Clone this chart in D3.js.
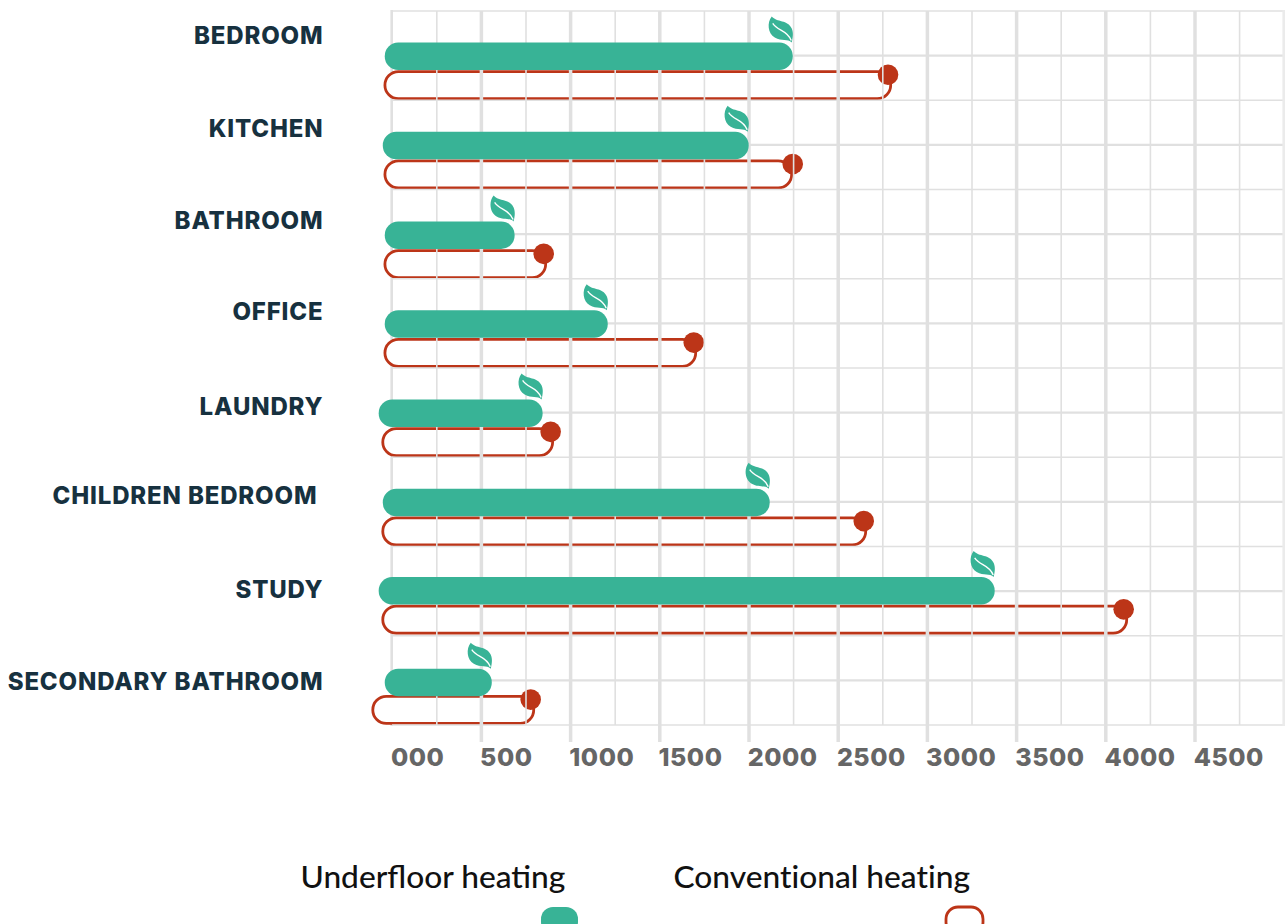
<!DOCTYPE html>
<html><head><meta charset="utf-8">
<script src="https://cdn.jsdelivr.net/npm/d3@7/dist/d3.min.js"></script>
<style>
html,body{margin:0;padding:0;background:#fff;overflow:hidden}
svg{display:block}
.cat{font-family:Inter,sans-serif;font-weight:800;font-size:24px;letter-spacing:.85px;fill:#17313f;white-space:pre}
.tick-label{font-family:Inter,sans-serif;font-weight:800;font-size:25px;letter-spacing:.5px;fill:#666}
.legend{font-family:Lato,sans-serif;font-weight:500;font-size:31.7px;fill:#111}
</style></head><body>
<script>
const categories = ["BEDROOM","KITCHEN","BATHROOM","OFFICE","LAUNDRY","CHILDREN BEDROOM ","STUDY","SECONDARY BATHROOM"];
const underfloorStart = [-39,-50,-39,-39,-73,-50,-73,-39];
const underfloorEnd = [2248,2001,689,1211,846,2119,3380,561];
const conventionalStart = [-38,-38,-38,-38,-50,-50,-50,-106];
const conventionalEnd = [2797,2242,863,1704,902,2657,4120,796];
const conventionalDot = [2782,2248,852,1693,891,2646,4103,779];
const majorTicks = [500,1000,1500,2000,2500,3000,3500,4000,4500];
const tickLabels = ["000","500","1000","1500","2000","2500","3000","3500","4000","4500"];
const labelTicks = [0,500,1000,1500,2000,2500,3000,3500,4000,4500];
const minorTicks = [250,750,1250,1750,2250,2750,3250,3750,4250,4750];
const seriesNames = ["Underfloor heating","Conventional heating"];

const W=1287,H=924, green="#38b396", red="#bc3518", grid="#e0e0e0";
const svg=d3.select("body").append("svg").attr("width",W).attr("height",H);
const x=d3.scaleLinear().domain([0,5000]).range([391.7,1283.7]);
const y=d3.scaleBand().domain(categories).range([11,725]);
const labelY=d3.scalePoint().domain(categories).range([44,690]);
const rowNudge=[0,0,.5,0,0,0,-1,1.5];
const pillNudge=[0,0,.5,0,0,0,-1,0];
const labelNudge=[0,1,0,-1,2,-1,0,0];
const barH=27;
const cy=(c)=>y(c)+y.bandwidth()/2;

// left edge line is masked by the pills
svg.append("line").attr("x1",x(0)).attr("x2",x(0)).attr("y1",10).attr("y2",726).attr("stroke",grid).attr("stroke-width",2.6);

// conventional pills and dots sit beneath the grid
const under=svg.append("g");
categories.forEach((c,i)=>{
  const top=cy(c)+pillNudge[i]+16;
  const x0=x(conventionalStart[i]), x1=x(conventionalEnd[i]);
  under.append("rect").attr("x",x0).attr("y",top).attr("width",x1-x0).attr("height",barH)
    .attr("rx",13.5).attr("fill","#fff").attr("stroke",red).attr("stroke-width",2.8);
  under.append("circle").attr("cx",x(conventionalDot[i])).attr("cy",top+3.2).attr("r",10.3).attr("fill",red);
});

// grid built with the library's axes
const gridG=svg.append("g");
const vMinor=d3.axisBottom(x).tickValues(minorTicks).tickSize(714).tickFormat("");
gridG.append("g").attr("transform","translate(0,11)").call(vMinor)
  .call(g=>g.select(".domain").remove())
  .call(g=>g.selectAll("line").attr("stroke",grid).attr("stroke-width",1.6));
const vMajor=d3.axisBottom(x).tickValues(majorTicks).tickSize(731).tickFormat("");
gridG.append("g").attr("transform","translate(0,11)").call(vMajor)
  .call(g=>g.select(".domain").remove())
  .call(g=>g.selectAll("line").attr("stroke",grid).attr("stroke-width",3.5));
// rows
const edges=d3.range(categories.length+1).map(i=>11+i*y.step());
gridG.selectAll(".edge").data(edges).join("line").attr("class","edge").attr("x1",392).attr("x2",1284).attr("y1",d=>d).attr("y2",d=>d)
  .attr("stroke",grid).attr("stroke-width",1.6);
gridG.selectAll(".mid").data(categories).join("line").attr("class","mid").attr("x1",392).attr("x2",1284).attr("y1",d=>cy(d)).attr("y2",d=>cy(d))
  .attr("stroke",grid).attr("stroke-width",2.2);
gridG.append("line").attr("x1",x(5000)).attr("x2",x(5000)).attr("y1",10).attr("y2",726).attr("stroke","#ebebeb").attr("stroke-width",2.6);

// underfloor bars and leaves above the grid
const leaf="M-21,-26 C-16,-20 -5,-23 -1,-14 C1,-9 0,-5 -1,0 C-5,-4 -11,-1 -18,-5 C-25,-9 -26,-20 -21,-26Z";
const vein="M-20,-19 C-15,-11 -6,-13 -1.5,-2";
categories.forEach((c,i)=>{
  const top=cy(c)+rowNudge[i]-13.2;
  const x0=x(underfloorStart[i]), x1=x(underfloorEnd[i]);
  svg.append("rect").attr("x",x0).attr("y",top).attr("width",x1-x0).attr("height",barH+.5)
    .attr("rx",13.5).attr("fill",green);
  const l=svg.append("g").attr("transform",`translate(${x1},${top})`);
  l.append("path").attr("d",leaf).attr("fill",green);
  l.append("path").attr("d",vein).attr("fill","none").attr("stroke","#fff").attr("stroke-width",1.4);
});

// text
svg.selectAll(".cat").data(categories).join("text").attr("class","cat")
  .attr("x",323.5).attr("y",(d,i)=>labelY(d)+labelNudge[i]).attr("text-anchor","end").text(d=>d);
svg.selectAll(".tick-label").data(labelTicks).join("text").attr("class","tick-label")
  .attr("x",d=>x(d)-.8).attr("y",766).text((d,i)=>tickLabels[i]);

// legend
svg.append("text").attr("class","legend").attr("x",300.5).attr("y",888).text(seriesNames[0]);
svg.append("text").attr("class","legend").attr("x",673.5).attr("y",888).style("font-variant-ligatures","none").text(seriesNames[1]);
svg.append("rect").attr("x",541).attr("y",907).attr("width",37).attr("height",27).attr("rx",12).attr("fill",green);
svg.append("rect").attr("x",946).attr("y",907).attr("width",37).attr("height",27).attr("rx",12).attr("fill","none").attr("stroke",red).attr("stroke-width",2.8);
</script>
</body></html>
